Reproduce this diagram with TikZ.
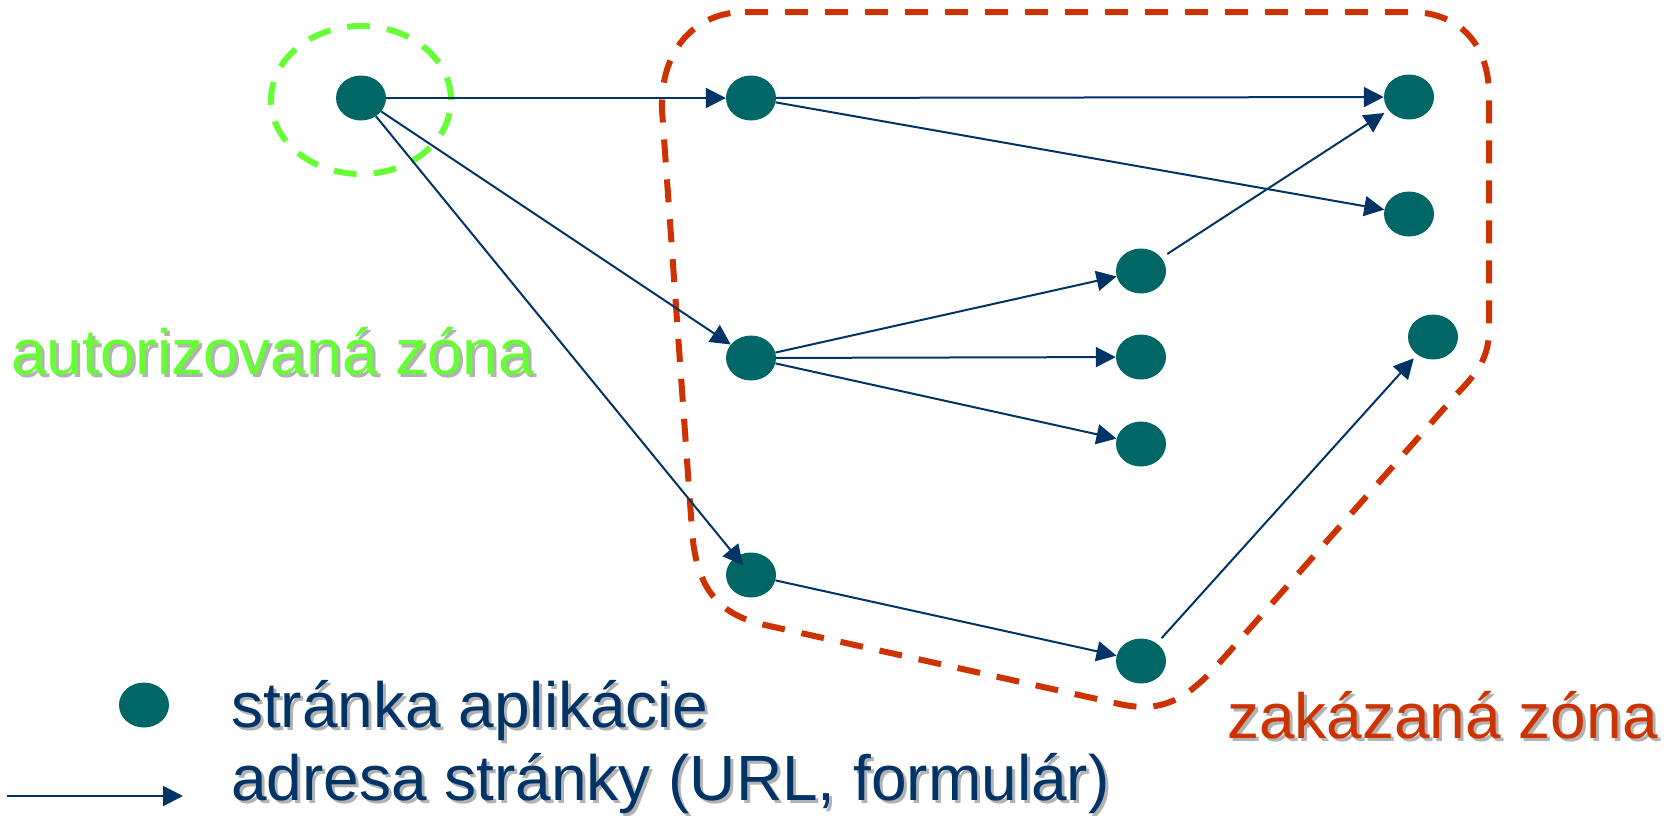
\documentclass[tikz,border=0pt]{standalone}
\usepackage{fontspec}
\setmainfont{Liberation Sans}
\usetikzlibrary{arrows.meta,shapes.geometric}
\definecolor{nodeteal}{HTML}{006666}
\definecolor{edgeblue}{HTML}{003366}
\definecolor{zonegreen}{HTML}{66FF33}
\definecolor{zonered}{HTML}{CC3300}
\definecolor{shadowgray}{HTML}{B2B2B2}
\tikzset{
  page/.style={fill=nodeteal, draw=none, ellipse, minimum width=50pt, minimum height=45pt, inner sep=0pt},
  edge/.style={draw=edgeblue, line width=2pt, -{Triangle[length=20pt,width=20pt]}},
  zoneline/.style={line width=6pt, dash pattern=on 23pt off 17pt},
  txt/.style={inner sep=0pt, anchor=base west, font=\fontsize{64pt}{75pt}\selectfont}
}
\begin{document}
\begin{tikzpicture}[x=1pt,y=-1pt]
\useasboundingbox (0,0) rectangle (1676,815);
% forbidden zone
\draw[zoneline, draw=zonered]
  (745,12) -- (1410,12) .. controls (1460,12) and (1489,45) .. (1489,95)
  -- (1489,330) .. controls (1489,360) and (1475,375) .. (1455,396)
  -- (1222,660) .. controls (1185,702) and (1160,714) .. (1115,703)
  -- (765,625) .. controls (720,615) and (696,590) .. (692,530)
  -- (662,110) .. controls (660,50) and (695,12) .. (745,12) -- cycle;
% authorized zone
\node[draw=zonegreen, zoneline, ellipse, minimum width=180pt, minimum height=148pt, inner sep=0pt] (auth) at (361,100) {};
% pages
\node[page] (A) at (361,98) {};
\node[page] (B) at (751,98) {};
\node[page] (C) at (1409,97) {};
\node[page] (D) at (1409,214) {};
\node[page] (E) at (1141,271) {};
\node[page] (F) at (1433,337) {};
\node[page] (G) at (751,358) {};
\node[page] (H) at (1141,357) {};
\node[page] (I) at (1141,444) {};
\node[page] (J) at (751,575) {};
\node[page] (K) at (1141,661) {};
\node[page] (L) at (144,705) {};
% links
\draw[edge] (A) -- (B);
\draw[edge] (A) -- (G);
\draw[edge, shorten >=-11pt] (A) -- (J);
\draw[edge] (B) -- (C);
\draw[edge] (B) -- (D);
\draw[edge] (G) -- (E);
\draw[edge] (G) -- (H);
\draw[edge] (G) -- (I);
\draw[edge, shorten <=7pt, shorten >=5pt] (E) -- (C);
\draw[edge] (J) -- (K);
\draw[edge, shorten <=7pt, shorten >=5pt] (K) -- (F);
\coordinate (la) at (7,796);
\coordinate (lb) at (183,796);
\draw[edge] (la) -- (lb);
% texts
\node[txt, text=shadowgray, xshift=3pt, yshift=-3pt] (t1s) at (11,374) {autorizovaná zóna};
\node[txt, text=zonegreen] (t1) at (11,374) {autorizovaná zóna};
\node[txt, text=shadowgray, xshift=3pt, yshift=-3pt] (t2s) at (1227,738) {zakázaná zóna};
\node[txt, text=zonered] (t2) at (1227,738) {zakázaná zóna};
\node[txt, text=shadowgray, xshift=3pt, yshift=-3pt] (t3s) at (231,727) {stránka aplikácie};
\node[txt, text=edgeblue] (t3) at (231,727) {stránka aplikácie};
\node[txt, text=shadowgray, xshift=3pt, yshift=-3pt] (t4s) at (231,800) {adresa stránky (URL, formulár)};
\node[txt, text=edgeblue] (t4) at (231,800) {adresa stránky (URL, formulár)};
\end{tikzpicture}
\end{document}
